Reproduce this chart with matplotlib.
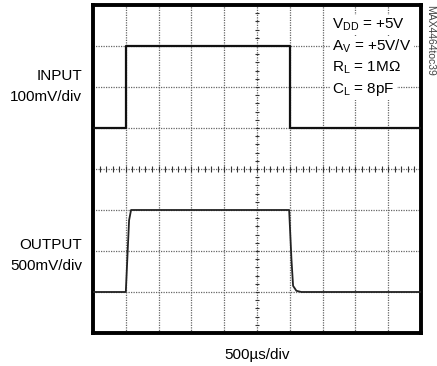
import matplotlib.pyplot as plt
import numpy as np

# scope traces, x in divisions (500us/div), y in divisions
t_in = [0, 1.0, 1.0, 6.0, 6.0, 10]
v_in = [1, 1, 3, 3, 1, 1]

t_out = [0, 1.0, 1.1, 1.16, 5.98, 6.05, 6.1, 6.2, 6.35, 10]
v_out = [-3, -3, -1.25, -1, -1, -2.2, -2.85, -2.97, -3, -3]

conditions = ["$\\mathregular{V_{DD}}$ = +5V", "$\\mathregular{A_V}$ = +5V/V",
              "$\\mathregular{R_L}$ = 1M$\\mathregular{\\Omega}$", "$\\mathregular{C_L}$ = 8pF"]

plt.rcParams['font.family'] = ['Liberation Sans', 'DejaVu Sans']
plt.rcParams['mathtext.fontset'] = 'custom'
plt.rcParams['mathtext.rm'] = 'Liberation Sans'

fig = plt.figure(figsize=(4.37, 3.66), dpi=100)
ax = fig.add_axes([93/437, 33/366, 328/437, 328/366])
ax.set_xlim(0, 10)
ax.set_ylim(-4, 4)

# dotted grid
for gx in range(1, 10):
    ax.axvline(gx, color='#666666', lw=0.9, ls=(0, (1, 1)), zorder=1)
for gy in range(-3, 4):
    ax.axhline(gy, color='#666666', lw=0.9, ls=(0, (1, 1)), zorder=1)

# minor ticks on centre lines
mx = np.arange(0, 10.01, 0.2)
ax.vlines(mx, -0.07, 0.07, color='#333333', lw=0.8, zorder=2)
my = np.arange(-4, 4.01, 0.2)
ax.hlines(my, 4.93, 5.07, color='#333333', lw=0.8, zorder=2)

ax.plot(t_in, v_in, color='#111111', lw=1.6, zorder=3)
ax.plot(t_out, v_out, color='#222222', lw=1.3, zorder=3)

for i, s in enumerate(conditions):
    ax.text(7.3, 3.51 - i * 0.52, s, fontsize=11, ha='left', va='center', zorder=4,
            bbox=dict(facecolor='white', edgecolor='none', pad=1.5))

ax.set_xticks([])
ax.set_yticks([])
for sp in ax.spines.values():
    sp.set_linewidth(2.8)
    sp.set_color('black')

fig.text(82/437, 1 - 76/366, "INPUT", ha='right', va='center', fontsize=11)
fig.text(82/437, 1 - 97/366, "100mV/div", ha='right', va='center', fontsize=11)
fig.text(82/437, 1 - 245/366, "OUTPUT", ha='right', va='center', fontsize=11)
fig.text(82/437, 1 - 266/366, "500mV/div", ha='right', va='center', fontsize=11)
fig.text(257/437, 1 - 355/366, "500\u00b5s/div", ha='center', va='center', fontsize=11)
fig.text(430/437, 1 - 5/366, "MAX4464toc39", ha='center', va='top', fontsize=7.5,
         rotation=270, color='#444444')

fig.savefig("out.png", dpi=100)
